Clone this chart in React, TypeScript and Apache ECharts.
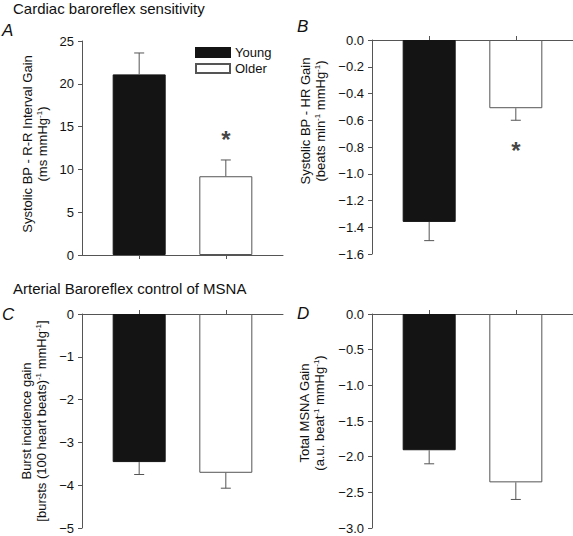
import React, { useEffect, useRef } from "react";
import * as echarts from "echarts";

const FONT = '"Liberation Sans", Arial, Helvetica, sans-serif';

// Data
const groups = ["Young", "Older"];
const groupX = [1, 2];

const meanA = [21.1, 9.2];
const errA = [2.5, 1.9];
const meanB = [-1.36, -0.51];
const errB = [0.14, 0.09];
const meanC = [-3.46, -3.71];
const errC = [0.29, 0.36];
const meanD = [-1.91, -2.36];
const errD = [0.19, 0.24];

// significance markers [x, y]
const starA = [2, 13.9];
const starB = [2, -0.805];

// axis ranges [min, max, interval, decimals]
const rangeA = [0, 25, 5, 0];
const rangeB = [-1.6, 0, 0.2, 1];
const rangeC = [-5, 0, 1, 0];
const rangeD = [-3, 0, 0.5, 1];

const sectionTitles = ["Cardiac baroreflex sensitivity", "Arterial Baroreflex control of MSNA"];
const panelLetters = ["A", "B", "C", "D"];

const axisNames = [
  "{n|Systolic BP - R-R Interval Gain}\n{n|(ms mmHg}{s|-1}{n|)}",
  "{n|Systolic BP - HR Gain}\n{n|(beats min}{s|-1}{n| mmHg}{s|-1}{n|)}",
  "{n|Burst incidence gain}\n{n|[bursts (100 heart beats)}{s|-1}{n| mmHg}{s|-1}{n|]}",
  "{n|Total MSNA Gain}\n{n|(a.u. beat}{s|-1}{n| mmHg}{s|-1}{n|)}",
];

const AXIS_COLOR = "#555";

export default function App() {
  const ref = useRef<HTMLDivElement>(null);

  useEffect(() => {
    document.body.style.margin = "0";
    if (!ref.current) return;
    const chart = echarts.init(ref.current, null, { renderer: "svg" });

    const panels = [
      { mean: meanA, err: errA, range: rangeA, star: starA, grid: { left: 82, top: 41, width: 201, height: 214 }, pos: "bottom", nameGap: 32, namePad: [0, 0, 0, 8] },
      { mean: meanB, err: errB, range: rangeB, star: starB, grid: { left: 372, top: 40, width: 201, height: 214 }, pos: "top", nameGap: 44, namePad: [0, 0, 0, 52] },
      { mean: meanC, err: errC, range: rangeC, star: null, grid: { left: 82, top: 314, width: 201, height: 214 }, pos: "top", nameGap: 33, namePad: [0, 0, 0, 0] },
      { mean: meanD, err: errD, range: rangeD, star: null, grid: { left: 372, top: 314, width: 201, height: 214 }, pos: "top", nameGap: 45, namePad: [0, 0, 0, 16] },
    ];

    const grids: any[] = [];
    const xAxes: any[] = [];
    const yAxes: any[] = [];
    const series: any[] = [];

    panels.forEach((p, i) => {
      grids.push({ ...p.grid, containLabel: false });
      xAxes.push({
        type: "value",
        gridIndex: i,
        min: 0.34,
        max: 2.66,
        position: p.pos,
        axisLine: { show: true, onZero: true, lineStyle: { color: AXIS_COLOR, width: 1 } },
        axisTick: { show: true, length: 4, customValues: groupX, lineStyle: { color: AXIS_COLOR } },
        axisLabel: { show: false },
        splitLine: { show: false },
      });
      const [mn, mx, iv, dec] = p.range as number[];
      yAxes.push({
        type: "value",
        gridIndex: i,
        min: mn,
        max: mx,
        interval: iv,
        axisLine: { show: true, lineStyle: { color: AXIS_COLOR, width: 1 } },
        axisTick: { show: true, length: 4, lineStyle: { color: AXIS_COLOR } },
        splitLine: { show: false },
        axisLabel: {
          fontSize: 13,
          fontFamily: FONT,
          color: "#111",
          margin: 8,
          formatter: (v: number) => {
            const s = Math.abs(v) < 1e-9 ? (0).toFixed(dec) : v.toFixed(dec);
            return s.replace("-", "\u2212");
          },
        },
        name: axisNames[i],
        nameLocation: "middle",
        nameRotate: 90,
        nameGap: p.nameGap,
        nameTextStyle: {
          fontFamily: FONT,
          fontSize: 13,
          color: "#111",
          lineHeight: 15,
          padding: p.namePad,
          rich: {
            n: { fontFamily: FONT, fontSize: 13, color: "#111", lineHeight: 15 },
            s: { fontFamily: FONT, fontSize: 8, color: "#111", verticalAlign: "top", lineHeight: 15 },
          },
        },
      });

      series.push({
        type: "bar",
        name: groups[0],
        xAxisIndex: i,
        yAxisIndex: i,
        barWidth: 53,
        barGap: "-100%",
        data: [[groupX[0], p.mean[0]]],
        itemStyle: { color: "#141414", borderColor: "#141414", borderWidth: 1 },
        z: 2,
      });
      series.push({
        type: "bar",
        name: groups[1],
        xAxisIndex: i,
        yAxisIndex: i,
        barWidth: 53,
        barGap: "-100%",
        data: [[groupX[1], p.mean[1]]],
        itemStyle: { color: "#ffffff", borderColor: AXIS_COLOR, borderWidth: 1 },
        z: 2,
      });
      series.push({
        type: "custom",
        xAxisIndex: i,
        yAxisIndex: i,
        z: 3,
        silent: true,
        data: groupX.map((x, k) => [x, p.mean[k], p.mean[k] >= 0 ? p.err[k] : -p.err[k]]),
        renderItem: (params: any, api: any) => {
          const x = api.value(0);
          const y = api.value(1);
          const e = api.value(2);
          const p0 = api.coord([x, y]);
          const p1 = api.coord([x, y + e]);
          const hw = 5;
          const st = { stroke: AXIS_COLOR, lineWidth: 1 };
          return {
            type: "group",
            children: [
              { type: "line", shape: { x1: p0[0], y1: p0[1], x2: p1[0], y2: p1[1] }, style: st },
              { type: "line", shape: { x1: p1[0] - hw, y1: p1[1], x2: p1[0] + hw, y2: p1[1] }, style: st },
            ],
          };
        },
      });
      if (p.star) {
        series.push({
          type: "scatter",
          xAxisIndex: i,
          yAxisIndex: i,
          symbolSize: 0,
          silent: true,
          data: [p.star],
          label: {
            show: true,
            position: "inside",
            formatter: "*",
            fontSize: 24,
            fontWeight: "bold",
            fontFamily: FONT,
            color: "#111",
            offset: [0, 3],
          },
        });
      }
    });

    const titleBase = { padding: 0, textStyle: { fontFamily: FONT, fontWeight: "normal", color: "#111", fontSize: 15 } };
    const letterStyle = { fontFamily: FONT, fontWeight: "normal", fontStyle: "italic", color: "#111", fontSize: 17 };

    chart.setOption({
      animation: false,
      title: [
        { ...titleBase, text: sectionTitles[0], left: 13, top: 1 },
        { ...titleBase, text: sectionTitles[1], left: 13, top: 281 },
        { padding: 0, text: panelLetters[0], left: 2, top: 22, textStyle: letterStyle },
        { padding: 0, text: panelLetters[1], left: 297, top: 18, textStyle: letterStyle },
        { padding: 0, text: panelLetters[2], left: 2, top: 306, textStyle: letterStyle },
        { padding: 0, text: panelLetters[3], left: 297, top: 305, textStyle: letterStyle },
      ],
      legend: {
        data: groups,
        orient: "vertical",
        left: 195,
        top: 46,
        itemWidth: 34,
        itemHeight: 9,
        itemGap: 3,
        icon: "rect",
        selectedMode: false,
        padding: 0,
        textStyle: { fontFamily: FONT, fontSize: 13, color: "#111" },
      },
      grid: grids,
      xAxis: xAxes,
      yAxis: yAxes,
      series,
    });

    return () => chart.dispose();
  }, []);

  return <div ref={ref} style={{ width: 573, height: 536 }} />;
}
